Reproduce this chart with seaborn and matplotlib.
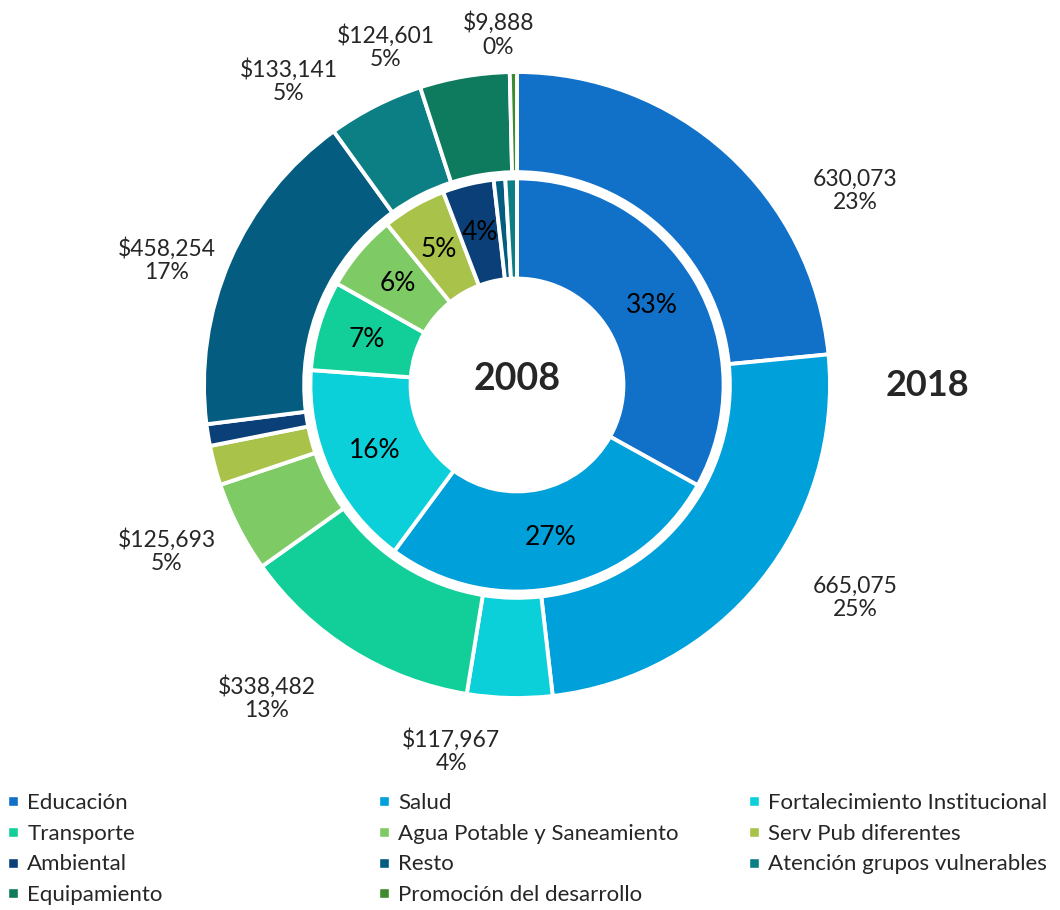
import matplotlib
matplotlib.use("Agg")
import matplotlib.pyplot as plt
import seaborn as sns
from matplotlib.lines import Line2D

categories = ["Educación", "Salud", "Fortalecimiento Institucional", "Transporte",
              "Agua Potable y Saneamiento", "Serv Pub diferentes", "Ambiental", "Resto",
              "Atención grupos vulnerables", "Equipamiento", "Promoción del desarrollo"]
# 2018 amounts (outer ring); Serv Pub and Ambiental are unlabeled, estimated
values_2018 = [630073, 665075, 117967, 338482, 125693, 55000, 30000, 458254, 133141, 124601, 9888]
# 2008 shares in % (inner ring)
shares_2008 = [33, 27, 16, 7, 6, 5, 4, 0.9, 0.9, 0, 0]
dollar_sign = [False, False, True, True, True, True, True, True, True, True, True]
label_outer = [True, True, True, True, True, False, False, True, True, True, True]

colors = sns.color_palette(["#1170C8", "#00A0DA", "#0BD0DA", "#12CF9A", "#7ECB66", "#A9C24A",
                            "#0B3F77", "#045C80", "#0B7F83", "#0E7A5E", "#3E8A2E"])

# where the outer labels sit (data units, ring radius = 1)
label_xy = [(1.08, 0.62), (1.08, -0.68), (-0.21, -1.17), (-0.80, -1.00), (-1.12, -0.53),
            None, None, (-1.12, 0.40), (-0.73, 0.97), (-0.42, 1.08), (-0.06, 1.12)]

sns.set_theme(style="white")
plt.rcParams["font.family"] = ["Lato", "DejaVu Sans"]

fig = plt.figure(figsize=(10.6, 9.1), dpi=100)
ax = fig.add_axes([204 / 1060, 212 / 910, 626 / 1060, 626 / 910])

wedge_kw = dict(edgecolor="white", linewidth=2.8)
ax.pie(values_2018, radius=1.0, colors=colors, startangle=90, counterclock=False,
       wedgeprops=dict(width=0.32, **wedge_kw))
ax.pie(shares_2008, radius=0.66, colors=colors, startangle=90, counterclock=False,
       labels=[f"{s:.0f}%" if s >= 3 else "" for s in shares_2008],
       labeldistance=0.5 / 0.66, textprops=dict(fontsize=19, color="black", ha="center", va="center"),
       wedgeprops=dict(width=0.32, **wedge_kw))

total = sum(values_2018)
for v, d, show, pos in zip(values_2018, dollar_sign, label_outer, label_xy):
    if not show:
        continue
    txt = ("$" if d else "") + f"{v:,}" + "\n" + f"{v / total * 100:.0f}%"
    ax.text(pos[0], pos[1], txt, ha="center", va="center", fontsize=16.5, linespacing=1.15)

ax.text(0, 0.02, "2008", ha="center", va="center", fontsize=27, fontweight="bold")
ax.text(1.31, 0.0, "2018", ha="center", va="center", fontsize=26, fontweight="bold")

ax.set_xlim(-1, 1)
ax.set_ylim(-1, 1)
ax.set_aspect("equal")
ax.axis("off")

# legend: three separate columns laid out row-wise like the original
col_x = [5, 376, 746]
for c in range(3):
    idx = list(range(c, len(categories), 3))
    handles = [Line2D([0], [0], marker="s", color="w", markerfacecolor=colors[i],
                      markersize=7, linestyle="none") for i in idx]
    fig.legend(handles, [categories[i] for i in idx], loc="upper left",
               bbox_to_anchor=(col_x[c] / 1060, 1 - 793 / 910), frameon=False,
               fontsize=16, handlelength=0.7, handletextpad=0.3, labelspacing=0.48,
               borderpad=0, borderaxespad=0)

fig.savefig("out.png", dpi=100)
